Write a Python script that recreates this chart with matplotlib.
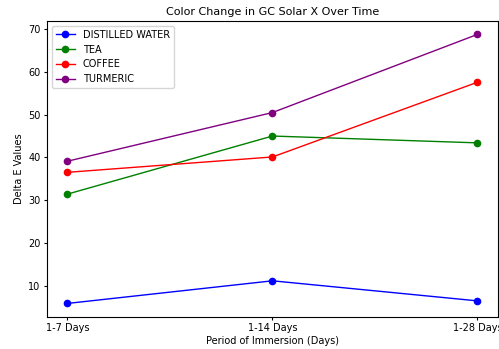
import numpy as np
import matplotlib.pyplot as plt

periods = ['1-7 Days', '1-14 Days', '1-28 Days']
distilled_water = [5.8, 11.1, 6.4]
tea = [31.4, 45.0, 43.4]
coffee = [36.5, 40.1, 57.6]
turmeric = [39.1, 50.5, 68.8]

plt.rcParams['font.size'] = 7.5

fig = plt.figure(figsize=(4.99, 3.49), dpi=100)
ax = fig.add_axes([0.094, 0.092, 0.904, 0.848])

ax.plot(periods, distilled_water, 'o-', color='blue', label='DISTILLED WATER', lw=1, ms=4.5)
ax.plot(periods, tea, 'o-', color='green', label='TEA', lw=1, ms=4.5)
ax.plot(periods, coffee, 'o-', color='red', label='COFFEE', lw=1, ms=4.5)
ax.plot(periods, turmeric, 'o-', color='purple', label='TURMERIC', lw=1, ms=4.5)

ax.set_title('Color Change in GC Solar X Over Time', fontsize=8, pad=4)
ax.set_xlabel('Period of Immersion (Days)', fontsize=7, labelpad=2)
ax.set_ylabel('Delta E Values', fontsize=7, labelpad=3)
ax.tick_params(labelsize=7, length=2.5, pad=2)
ax.legend(loc='upper left', fontsize=7)

fig.savefig('out.png', dpi=100)
